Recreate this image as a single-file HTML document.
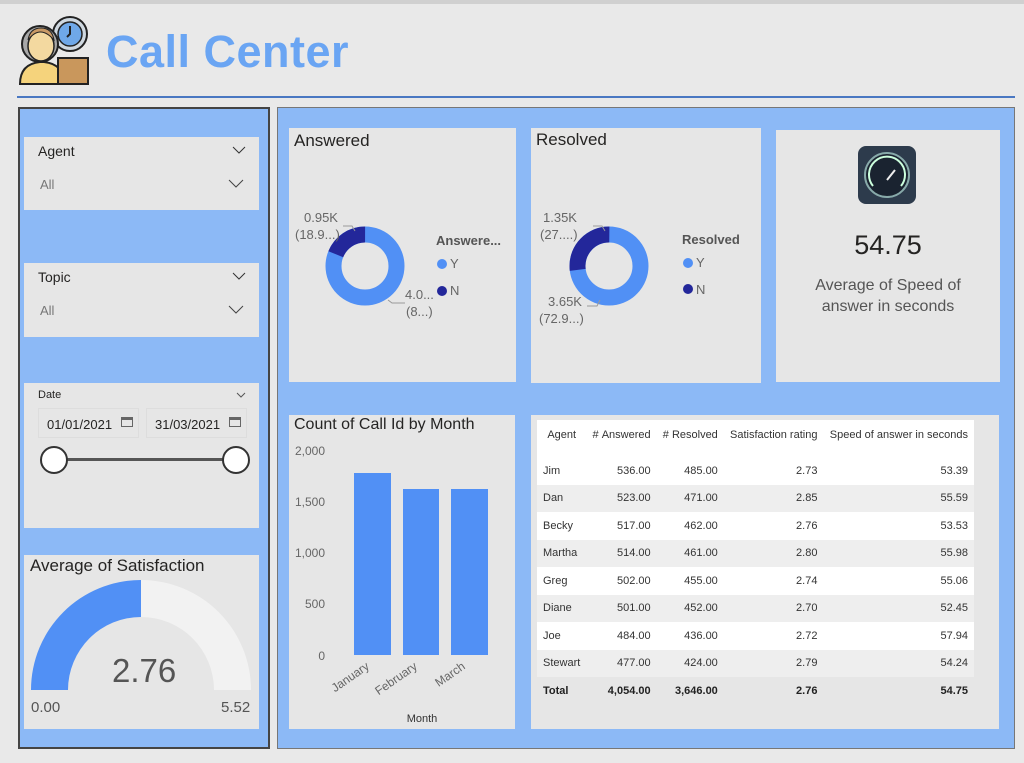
<!DOCTYPE html>
<html><head><meta charset="utf-8"><style>
*{margin:0;padding:0;box-sizing:border-box}
body{width:1024px;height:763px;background:#e9e9e9;position:relative;overflow:hidden;font-family:"Liberation Sans","DejaVu Sans",sans-serif;color:#252423}
.a{position:absolute}
.card{position:absolute;background:#e6e6e6}
.t{position:absolute;font-size:16px;color:#252423}
.g{color:#666}
table{border-collapse:collapse;font-size:11px;color:#333}
td{height:27.5px;padding:0 6px;text-align:right}
td:first-child{text-align:left}
</style></head><body>
<div class="a" style="left:0;top:0;width:1024px;height:4px;background:#d0d0d0"></div>
<svg class="a" style="left:18px;top:14px" width="74" height="72" viewBox="0 0 74 72">
<circle cx="52" cy="20" r="17" fill="#cfd8e0" stroke="#222" stroke-width="2"/><circle cx="52" cy="20" r="12" fill="#6fa8e8" stroke="#222" stroke-width="1.5"/><path d="M52 12v8l-3 3" stroke="#222" stroke-width="2" fill="none"/>
<circle cx="22" cy="30" r="18" fill="#a8a8a8" stroke="#222" stroke-width="2"/><ellipse cx="23" cy="32" rx="13" ry="15" fill="#f3d9a0" stroke="#222" stroke-width="1.5"/><path d="M10 26q12-16 26 0q-2-12-13-12t-13 12" fill="#c99a66" stroke="#222"/>
<path d="M2 70q0-20 20-22h4q20 2 20 22z" fill="#f5d37c" stroke="#222" stroke-width="2"/>
<rect x="40" y="44" width="30" height="26" fill="#c9975c" stroke="#222" stroke-width="2"/>
</svg>
<div class="a" style="left:106px;top:26px;font-size:45px;font-weight:bold;color:#6aa5f3;letter-spacing:0.5px">Call Center</div>
<div class="a" style="left:17px;top:96px;width:998px;height:2px;background:#4a78c2"></div>

<div class="a" style="left:18px;top:107px;width:252px;height:642px;background:#8cb9f6;border:2px solid #444"></div>
<div class="a" style="left:277px;top:107px;width:738px;height:642px;background:#8cb9f6;border:1px solid #777"></div>

<div class="card" style="left:24px;top:137px;width:235px;height:73px">
<div class="t" style="left:14px;top:6px;font-size:14px">Agent</div>
<svg class="a" style="left:208px;top:9px" width="14" height="8"><path d="M1 1l6 6 6-6" stroke="#333" fill="none"/></svg>
<div class="t g" style="left:16px;top:40px;font-size:13px;color:#777">All</div>
<svg class="a" style="left:204px;top:42px" width="16" height="9"><path d="M1 1l7 7 7-7" stroke="#444" fill="none"/></svg>
</div>
<div class="card" style="left:24px;top:263px;width:235px;height:74px">
<div class="t" style="left:14px;top:6px;font-size:14px">Topic</div>
<svg class="a" style="left:208px;top:9px" width="14" height="8"><path d="M1 1l6 6 6-6" stroke="#333" fill="none"/></svg>
<div class="t g" style="left:16px;top:40px;font-size:13px;color:#777">All</div>
<svg class="a" style="left:204px;top:42px" width="16" height="9"><path d="M1 1l7 7 7-7" stroke="#444" fill="none"/></svg>
</div>
<div class="card" style="left:24px;top:383px;width:235px;height:145px">
<div class="t" style="left:14px;top:6px;font-size:11px">Date</div>
<svg class="a" style="left:212px;top:9px" width="10" height="6"><path d="M1 1l4 4 4-4" stroke="#555" fill="none"/></svg>
<div class="a" style="left:14px;top:25px;width:101px;height:30px;border:1px solid #ddd"></div>
<div class="a" style="left:122px;top:25px;width:101px;height:30px;border:1px solid #ddd"></div>
<div class="t" style="left:23px;top:34px;font-size:13px">01/01/2021</div>
<div class="t" style="left:131px;top:34px;font-size:13px">31/03/2021</div>
<div class="a" style="left:97px;top:34px;width:12px;height:10px;border:1px solid #666;border-top:3px solid #666"></div>
<div class="a" style="left:205px;top:34px;width:12px;height:10px;border:1px solid #666;border-top:3px solid #666"></div>
<div class="a" style="left:28px;top:75px;width:184px;height:3px;background:#555"></div>
<div class="a" style="left:16px;top:63px;width:28px;height:28px;border-radius:50%;background:#fff;border:2px solid #333"></div>
<div class="a" style="left:198px;top:63px;width:28px;height:28px;border-radius:50%;background:#fff;border:2px solid #333"></div>
</div>
<div class="card" style="left:24px;top:555px;width:235px;height:174px">
<div class="t" style="left:6px;top:1px;font-size:17px">Average of Satisfaction</div>
</div>
<svg class="a" style="left:0;top:0" width="1024" height="763">
<path d="M31 690A110 110 0 0 1 141 580V617A73 73 0 0 0 68 690Z" fill="#5190f5"/>
<path d="M141 580A110 110 0 0 1 251 690H214A73 73 0 0 0 141 617Z" fill="#f2f2f2"/>
</svg>
<div class="t" style="left:112px;top:652px;font-size:33px;color:#555">2.76</div>
<div class="t" style="left:31px;top:699px;font-size:15px;color:#555">0.00</div>
<div class="t" style="left:221px;top:699px;font-size:15px;color:#555">5.52</div>

<div class="card" style="left:289px;top:128px;width:227px;height:254px"><div class="t" style="left:5px;top:3px;font-size:17px">Answered</div></div>
<div class="card" style="left:531px;top:128px;width:230px;height:255px"><div class="t" style="left:5px;top:2px;font-size:17px">Resolved</div></div>
<div class="card" style="left:776px;top:130px;width:224px;height:252px"></div>
<svg class="a" style="left:0;top:0" width="1024" height="763">
<circle cx="365" cy="266" r="31.5" fill="none" stroke="#5190f5" stroke-width="16"/>
<circle cx="365" cy="266" r="31.5" fill="none" stroke="#23279a" stroke-width="16" stroke-dasharray="37.4 200" transform="rotate(-158 365 266)"/>
<circle cx="609" cy="266" r="31.5" fill="none" stroke="#5190f5" stroke-width="16"/>
<circle cx="609" cy="266" r="31.5" fill="none" stroke="#23279a" stroke-width="16" stroke-dasharray="53.6 200" transform="rotate(-187 609 266)"/>
<path d="M343 226h9l3 5M388 300l4 3h13M593 226h9l3 5M600 300l-3 6h-10" stroke="#999" fill="none"/>
<circle cx="442" cy="264" r="5" fill="#5190f5"/><circle cx="442" cy="291" r="5" fill="#23279a"/>
<circle cx="688" cy="263" r="5" fill="#5190f5"/><circle cx="688" cy="289" r="5" fill="#23279a"/>
<rect x="858" y="146" width="58" height="58" rx="8" fill="#2d3b4c"/><circle cx="887" cy="175" r="22" fill="#1a2330" stroke="#8aa" stroke-width="2"/><path d="M873 186A18 18 0 1 1 901 186" stroke="#cfd" stroke-width="2" fill="none"/><path d="M887 180l8-10" stroke="#eee" stroke-width="2"/>
</svg>
<div class="t g" style="left:304px;top:210px;font-size:13px">0.95K</div>
<div class="t g" style="left:295px;top:227px;font-size:13px">(18.9...)</div>
<div class="t g" style="left:405px;top:287px;font-size:13px">4.0...</div>
<div class="t g" style="left:406px;top:304px;font-size:13px">(8...)</div>
<div class="t" style="left:436px;top:233px;font-size:13px;font-weight:bold;color:#555">Answere...</div>
<div class="t g" style="left:450px;top:256px;font-size:13px">Y</div>
<div class="t g" style="left:450px;top:283px;font-size:13px">N</div>
<div class="t g" style="left:543px;top:210px;font-size:13px">1.35K</div>
<div class="t g" style="left:540px;top:227px;font-size:13px">(27....)</div>
<div class="t g" style="left:548px;top:294px;font-size:13px">3.65K</div>
<div class="t g" style="left:539px;top:311px;font-size:13px">(72.9...)</div>
<div class="t" style="left:682px;top:232px;font-size:13px;font-weight:bold;color:#555">Resolved</div>
<div class="t g" style="left:696px;top:255px;font-size:13px">Y</div>
<div class="t g" style="left:696px;top:282px;font-size:13px">N</div>
<div class="t" style="left:776px;top:230px;width:224px;text-align:center;font-size:27px">54.75</div>
<div class="t" style="left:776px;top:275px;width:224px;text-align:center;font-size:16px;color:#555;line-height:21px">Average of Speed of<br>answer in seconds</div>

<div class="card" style="left:289px;top:415px;width:226px;height:314px"><div class="t" style="left:5px;top:1px;font-size:16px">Count of Call Id by Month</div></div>
<svg class="a" style="left:0;top:0" width="1024" height="763" font-family="Liberation Sans" font-size="12" fill="#666">
<g text-anchor="end"><text x="325" y="455">2,000</text><text x="325" y="506">1,500</text><text x="325" y="557">1,000</text><text x="325" y="608">500</text><text x="325" y="660">0</text></g>
<rect x="354" y="473" width="37" height="182" fill="#5190f5"/>
<rect x="403" y="489" width="36" height="166" fill="#5190f5"/>
<rect x="451" y="489" width="37" height="166" fill="#5190f5"/>
<text transform="translate(370 668) rotate(-35)" text-anchor="end">January</text>
<text transform="translate(418 668) rotate(-35)" text-anchor="end">February</text>
<text transform="translate(466 668) rotate(-35)" text-anchor="end">March</text>
<text x="422" y="722" text-anchor="middle" font-size="11" fill="#333">Month</text>
</svg>

<div class="card" style="left:531px;top:415px;width:468px;height:314px"></div>
<table class="a" style="left:537px;top:420px;width:437px">
<tr style="background:#fff;height:37px"><td style="text-align:center;vertical-align:top;padding-top:9px">Agent</td><td style="vertical-align:top;padding-top:9px">#&nbsp;Answered</td><td style="vertical-align:top;padding-top:9px">#&nbsp;Resolved</td><td style="vertical-align:top;padding-top:9px">Satisfaction rating</td><td style="vertical-align:top;padding-top:9px">Speed of answer in seconds</td></tr>
<tr style="background:#fff"><td>Jim</td><td>536.00</td><td>485.00</td><td>2.73</td><td>53.39</td></tr>
<tr style="background:#eee"><td>Dan</td><td>523.00</td><td>471.00</td><td>2.85</td><td>55.59</td></tr>
<tr style="background:#fff"><td>Becky</td><td>517.00</td><td>462.00</td><td>2.76</td><td>53.53</td></tr>
<tr style="background:#eee"><td>Martha</td><td>514.00</td><td>461.00</td><td>2.80</td><td>55.98</td></tr>
<tr style="background:#fff"><td>Greg</td><td>502.00</td><td>455.00</td><td>2.74</td><td>55.06</td></tr>
<tr style="background:#eee"><td>Diane</td><td>501.00</td><td>452.00</td><td>2.70</td><td>52.45</td></tr>
<tr style="background:#fff"><td>Joe</td><td>484.00</td><td>436.00</td><td>2.72</td><td>57.94</td></tr>
<tr style="background:#eee"><td>Stewart</td><td>477.00</td><td>424.00</td><td>2.79</td><td>54.24</td></tr>
<tr style="font-weight:bold;color:#222"><td>Total</td><td>4,054.00</td><td>3,646.00</td><td>2.76</td><td>54.75</td></tr>
</table>
</body></html>
